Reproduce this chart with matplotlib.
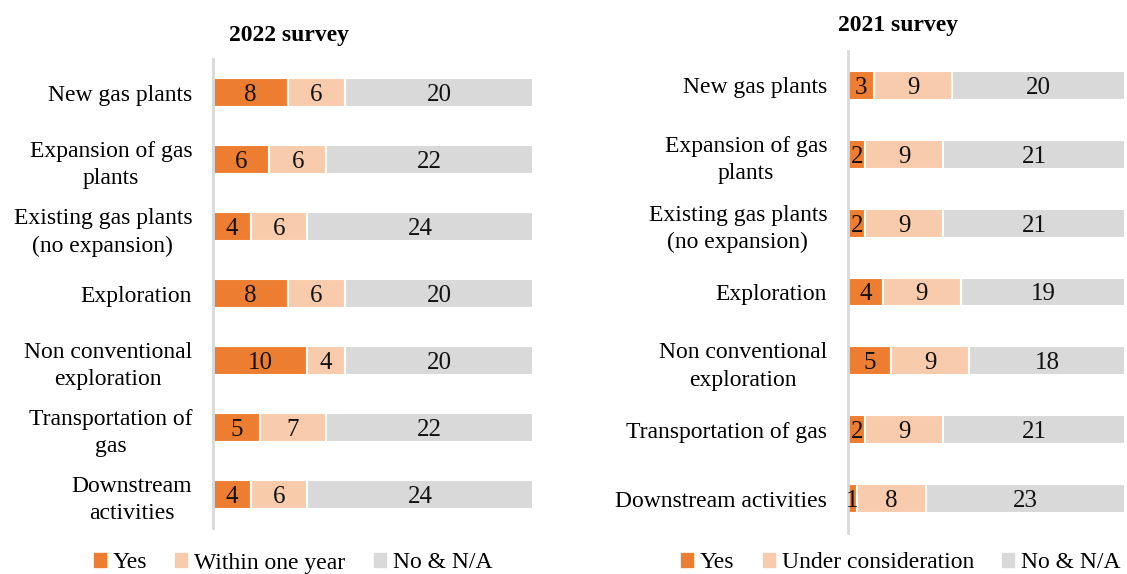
import matplotlib.pyplot as plt
from matplotlib.patches import Patch

plt.rcParams['font.family'] = ['Liberation Serif', 'DejaVu Serif']

# 2022 survey
cats_2022 = ['New gas plants', 'Expansion of gas\nplants', 'Existing gas plants\n(no expansion)',
             'Exploration', 'Non conventional\nexploration', 'Transportation of\ngas',
             'Downstream\nactivities']
yes_2022 = [8, 6, 4, 8, 10, 5, 4]
within_2022 = [6, 6, 6, 6, 4, 7, 6]
no_2022 = [20, 22, 24, 20, 20, 22, 24]

# 2021 survey
cats_2021 = ['New gas plants', 'Expansion of gas\nplants', 'Existing gas plants\n(no expansion)',
             'Exploration', 'Non conventional\nexploration', 'Transportation of gas',
             'Downstream activities']
yes_2021 = [3, 2, 2, 4, 5, 2, 1]
under_2021 = [9, 9, 9, 9, 9, 9, 8]
no_2021 = [20, 21, 21, 19, 18, 21, 23]

c_yes = '#ED7D31'
c_mid = '#F8CBAD'
c_no = '#D9D9D9'

W, H = 1127, 574
FS = 17
fig = plt.figure(figsize=(W / 100, H / 100), dpi=100)


def panel(rect, cats, s1, s2, s3, xmax, title, title_xy, mid_label, leg_x):
    ax = fig.add_axes(rect)
    y = list(range(len(cats)))
    left = [0] * len(cats)
    for vals, col in [(s1, c_yes), (s2, c_mid), (s3, c_no)]:
        bars = ax.barh(y, vals, left=left, height=0.42, color=col,
                       edgecolor='white', linewidth=1.5)
        for b, v in zip(bars, vals):
            ax.text(b.get_x() + b.get_width() / 2, b.get_y() + b.get_height() / 2,
                    str(v), ha='center', va='center_baseline', fontsize=18, color='#111111')
        left = [l + v for l, v in zip(left, vals)]
    ax.set_xlim(0, xmax)
    ax.set_ylim(len(cats) - 0.5, -0.5)
    ax.set_yticks(y)
    ax.set_yticklabels(cats, fontsize=FS, multialignment='center', linespacing=1.4)
    ax.tick_params(axis='y', length=0, pad=15)
    ax.set_xticks([])
    for s in ['top', 'right', 'bottom']:
        ax.spines[s].set_visible(False)
    ax.spines['left'].set_color('#D9D9D9')
    ax.spines['left'].set_linewidth(2)
    fig.text(title_xy[0] / W, 1 - title_xy[1] / H, title, ha='center', va='center',
             fontsize=FS, fontweight='bold')
    handles = [Patch(color=c_yes), Patch(color=c_mid), Patch(color=c_no)]
    fig.legend(handles, ['Yes', mid_label, 'No & N/A'], loc='center',
               bbox_to_anchor=(leg_x / W, 1 - 563 / H), ncol=3, frameon=False,
               fontsize=FS, handlelength=0.5, handleheight=0.5, handletextpad=0.3,
               columnspacing=1.2, borderpad=0)
    return ax


panel([213 / W, 1 - 528 / H, 320 / W, 469 / H], cats_2022, yes_2022, within_2022, no_2022,
      34, '2022 survey', (289, 36), 'Within one year', 293)
panel([848 / W, 1 - 533 / H, 279 / W, 482 / H], cats_2021, yes_2021, under_2021, no_2021,
      32.2, '2021 survey', (898, 25), 'Under consideration', 901)

fig.savefig('out.png', dpi=100)
